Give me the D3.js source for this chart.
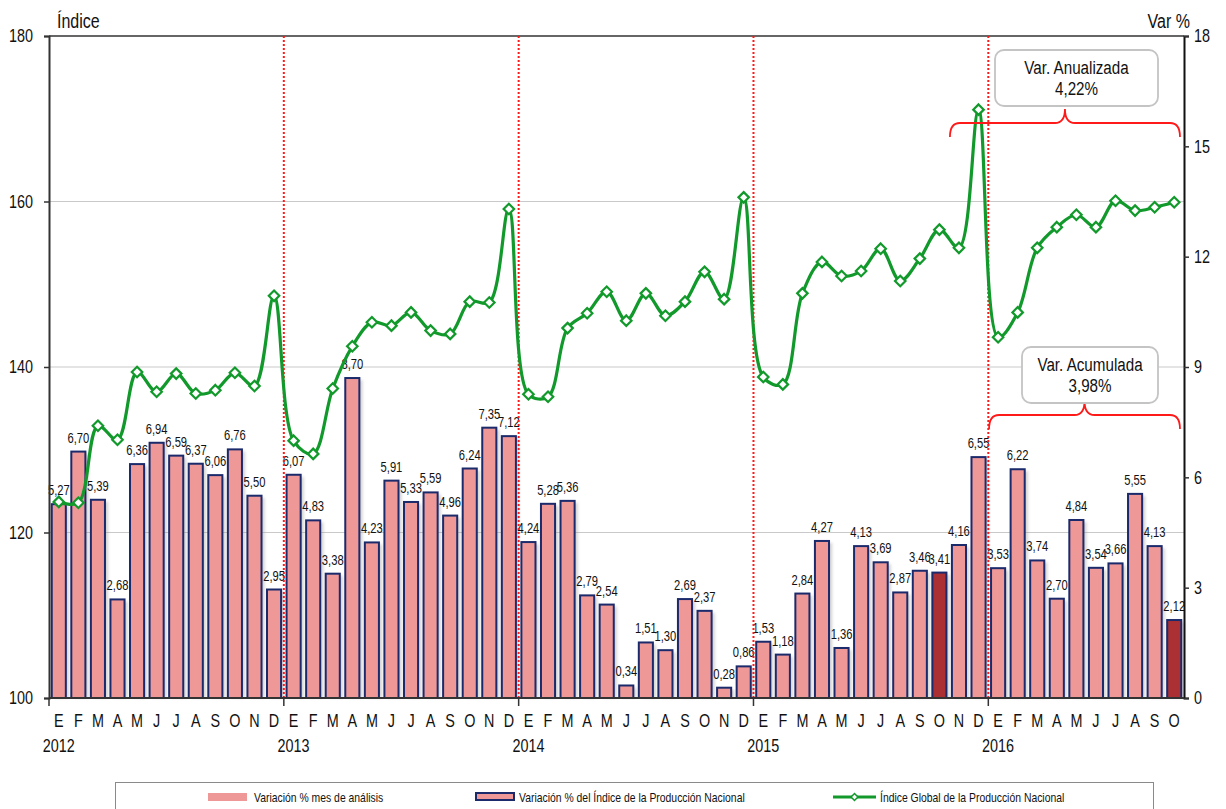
<!DOCTYPE html>
<html>
<head>
<meta charset="utf-8">
<script src="https://cdn.jsdelivr.net/npm/d3@7"></script>
<style>
  body { margin: 0; background: #fff; }
  svg { display: block; }
  text { font-family: "Liberation Sans", Arial, sans-serif; fill: #111; }
</style>
</head>
<body>
<svg id="chart"></svg>
<script>
// month initials per year (Spanish)
const monthLetters = ['E', 'F', 'M', 'A', 'M', 'J', 'J', 'A', 'S', 'O', 'N', 'D'];
const years = ['2012', '2013', '2014', '2015', '2016'];

// Variación % (right axis), Jan 2012 .. Oct 2016
const variacion = [
    5.27, 6.70, 5.39, 2.68, 6.36, 6.94, 6.59, 6.37, 6.06, 6.76, 5.50, 2.95,
    6.07, 4.83, 3.38, 8.70, 4.23, 5.91, 5.33, 5.59, 4.96, 6.24, 7.35, 7.12,
    4.24, 5.28, 5.36, 2.79, 2.54, 0.34, 1.51, 1.30, 2.69, 2.37, 0.28, 0.86,
    1.53, 1.18, 2.84, 4.27, 1.36, 4.13, 3.69, 2.87, 3.46, 3.41, 4.16, 6.55,
    3.53, 6.22, 3.74, 2.70, 4.84, 3.54, 3.66, 5.55, 4.13, 2.12
];

// Índice Global de la Producción Nacional (left axis)
const indice = [
    123.7, 123.6, 132.9, 131.2, 139.4, 137.0, 139.2, 136.8, 137.2, 139.3, 137.7, 148.6,
    131.1, 129.5, 137.4, 142.5, 145.4, 145.0, 146.6, 144.4, 144.0, 147.9, 147.8, 159.1,
    136.7, 136.4, 144.7, 146.5, 149.1, 145.6, 148.9, 146.2, 147.9, 151.5, 148.2, 160.5,
    138.8, 137.9, 148.9, 152.7, 151.0, 151.6, 154.3, 150.4, 153.1, 156.6, 154.4, 171.1,
    143.6, 146.6, 154.4, 156.9, 158.4, 156.9, 160.1, 158.9, 159.3, 159.9
];

// months of analysis (highlighted bars)
const mesAnalisis = [45, 57];

const leftTicks = [100, 120, 140, 160, 180];
const rightTicks = [0, 3, 6, 9, 12, 15, 18];

const legendLabels = [
    'Variación % mes de análisis',
    'Variación % del Índice de la Producción Nacional',
    'Índice Global de la Producción Nacional'
];

const annotations = [
    { lines: ['Var. Anualizada', '4,22%'], from: 46, boxX: 995, boxW: 163, boxY: 50, braceY: 123 },
    { lines: ['Var. Acumulada', '3,98%'], from: 48, boxX: 1022, boxW: 136, boxY: 347, braceY: 415 }
];

const W = 1226, H = 809;
const plot = { left: 49, right: 1184, top: 36, bottom: 698 };
const SQUEEZE = 0.8; // the original uses a narrow typeface

const svg = d3.select('#chart').attr('width', W).attr('height', H);

// text helper: horizontally condensed label
function label(g, x, y, str, size, anchor) {
    return g.append('text')
        .attr('transform', `translate(${x},${y}) scale(${SQUEEZE},1)`)
        .attr('text-anchor', anchor || 'start')
        .attr('font-size', size)
        .text(str);
}

const idx = d3.range(variacion.length);
const x = d3.scaleBand()
    .domain(idx)
    .range([plot.left, plot.right])
    .paddingInner(0.28)
    .paddingOuter(0.14);
const step = x.step();
const bandStart = i => plot.left + i * step;
const cx = i => x(i) + x.bandwidth() / 2;

const yL = d3.scaleLinear().domain([100, 180]).range([plot.bottom, plot.top]);
const yR = d3.scaleLinear().domain([0, 18]).range([plot.bottom, plot.top]);

const defs = svg.append('defs');
defs.append('filter').attr('id', 'shadow')
    .attr('x', '-20%').attr('y', '-5%').attr('width', '160%').attr('height', '120%')
    .append('feGaussianBlur').attr('stdDeviation', 1.5);

// gridlines
svg.append('g')
    .selectAll('line')
    .data(leftTicks.filter(d => d !== 100 && d !== 180))
    .join('line')
    .attr('x1', plot.left).attr('x2', plot.right)
    .attr('y1', d => yL(d)).attr('y2', d => yL(d))
    .attr('stroke', '#c9c9c9').attr('stroke-width', 1.2);

// top border
svg.append('line')
    .attr('x1', plot.left).attr('x2', plot.right)
    .attr('y1', plot.top).attr('y2', plot.top)
    .attr('stroke', '#666').attr('stroke-width', 2);

// bar shadows
svg.append('g')
    .selectAll('rect')
    .data(idx)
    .join('rect')
    .attr('x', i => x(i) + 3)
    .attr('y', i => yR(variacion[i]) + 2)
    .attr('width', x.bandwidth())
    .attr('height', i => plot.bottom - yR(variacion[i]) - 2)
    .attr('fill', '#999')
    .attr('opacity', 0.45)
    .attr('filter', 'url(#shadow)');

// bars
svg.append('g')
    .selectAll('rect')
    .data(idx)
    .join('rect')
    .attr('x', i => x(i))
    .attr('y', i => yR(variacion[i]))
    .attr('width', x.bandwidth())
    .attr('height', i => plot.bottom - yR(variacion[i]))
    .attr('fill', i => mesAnalisis.includes(i) ? '#ab3033' : '#ef9898')
    .attr('stroke', '#1b2a6b')
    .attr('stroke-width', 2);

// bar labels
const barLabels = svg.append('g');
idx.forEach(i => {
    label(barLabels, cx(i), yR(variacion[i]) - 9, variacion[i].toFixed(2).replace('.', ','), 14, 'middle');
});

// year separators
svg.append('g')
    .selectAll('line')
    .data([12, 24, 36, 48])
    .join('line')
    .attr('x1', i => bandStart(i)).attr('x2', i => bandStart(i))
    .attr('y1', plot.top).attr('y2', plot.bottom)
    .attr('stroke', '#ff1a1a').attr('stroke-width', 2)
    .attr('stroke-dasharray', '2,2');

// line
const line = d3.line()
    .x((d, i) => cx(i))
    .y(d => yL(d))
    .curve(d3.curveCatmullRom.alpha(0.5));

svg.append('path')
    .datum(indice)
    .attr('d', line)
    .attr('fill', 'none')
    .attr('stroke', '#12992b')
    .attr('stroke-width', 3.2);

const diamond = d3.symbol().type(d3.symbolDiamond2).size(70);
svg.append('g')
    .selectAll('path')
    .data(indice)
    .join('path')
    .attr('d', diamond)
    .attr('transform', (d, i) => `translate(${cx(i)},${yL(d)})`)
    .attr('fill', '#fff')
    .attr('stroke', '#12992b')
    .attr('stroke-width', 2.2);

// axes
const leftAxis = d3.axisLeft(yL).tickValues(leftTicks).tickSize(5);
svg.append('g')
    .attr('transform', `translate(${plot.left},0)`)
    .call(leftAxis)
    .call(g => g.select('.domain').attr('stroke', '#333').attr('stroke-width', 2))
    .call(g => g.selectAll('.tick line').attr('stroke', '#333').attr('stroke-width', 1.5))
    .call(g => g.selectAll('.tick text').attr('font-size', 18).attr('fill', '#111')
        .attr('x', -16 / SQUEEZE).attr('transform', `scale(${SQUEEZE},1)`)
        .style('font-family', '"Liberation Sans", Arial, sans-serif'));

const rightAxis = d3.axisRight(yR).tickValues(rightTicks).tickSize(5);
svg.append('g')
    .attr('transform', `translate(${plot.right},0)`)
    .call(rightAxis)
    .call(g => g.select('.domain').attr('stroke', '#111').attr('stroke-width', 2))
    .call(g => g.selectAll('.tick line').attr('stroke', '#333').attr('stroke-width', 1.5))
    .call(g => g.selectAll('.tick text').attr('font-size', 18).attr('fill', '#111')
        .attr('x', 10 / SQUEEZE).attr('transform', `scale(${SQUEEZE},1)`)
        .style('font-family', '"Liberation Sans", Arial, sans-serif'));

// x axis baseline
svg.append('line')
    .attr('x1', plot.left).attr('x2', plot.right)
    .attr('y1', plot.bottom).attr('y2', plot.bottom)
    .attr('stroke', '#333').attr('stroke-width', 2);

svg.append('g')
    .selectAll('line')
    .data([0, 12, 24, 36, 48])
    .join('line')
    .attr('x1', i => bandStart(i)).attr('x2', i => bandStart(i))
    .attr('y1', plot.bottom).attr('y2', plot.bottom + 8)
    .attr('stroke', '#333').attr('stroke-width', 1.5);

// month and year labels
const xLabels = svg.append('g');
idx.forEach(i => label(xLabels, cx(i), 727, monthLetters[i % 12], 18, 'middle'));
years.forEach((yr, k) => label(xLabels, cx(k * 12), 752, yr, 18, 'middle'));

// axis titles
label(svg, 57, 28, 'Índice', 20);
label(svg, 1190, 28, 'Var %', 20, 'end');

// annotations with curly braces
function brace(x1, x2, y, tipX) {
    const r = 10, d = 14;
    return `M${x1},${y + d} Q${x1},${y} ${x1 + r},${y}` +
        ` L${tipX - r},${y} Q${tipX},${y} ${tipX},${y - 14}` +
        ` Q${tipX},${y} ${tipX + r},${y}` +
        ` L${x2 - r},${y} Q${x2},${y} ${x2},${y + d}`;
}

annotations.forEach(a => {
    const x1 = x(a.from) - 2;
    const x2 = plot.right - 4;
    const tipX = (x1 + x2) / 2;
    svg.append('path')
        .attr('d', brace(x1, x2, a.braceY, tipX))
        .attr('fill', 'none')
        .attr('stroke', '#ff1a1a')
        .attr('stroke-width', 1.8);

    svg.append('rect')
        .attr('x', a.boxX).attr('y', a.boxY)
        .attr('width', a.boxW).attr('height', 56)
        .attr('rx', 9)
        .attr('fill', '#fff')
        .attr('stroke', '#c4c4c4')
        .attr('stroke-width', 1.8);
    a.lines.forEach((t, k) => {
        label(svg, a.boxX + a.boxW / 2, a.boxY + 24 + k * 21, t, 19, 'middle');
    });
});

// legend
const legend = svg.append('g');
legend.append('rect')
    .attr('x', 115.5).attr('y', 782.5)
    .attr('width', 1038).attr('height', 40)
    .attr('fill', '#fff').attr('stroke', '#8a8a8a').attr('stroke-width', 1);

legend.append('rect').attr('x', 208).attr('y', 793).attr('width', 39).attr('height', 8).attr('fill', '#ef9898');
label(legend, 254, 801.5, legendLabels[0], 13);

legend.append('rect').attr('x', 476).attr('y', 793).attr('width', 38).attr('height', 7)
    .attr('fill', '#ef9898').attr('stroke', '#1b2a6b').attr('stroke-width', 2);
label(legend, 519, 801.5, legendLabels[1], 13);

legend.append('line').attr('x1', 833).attr('x2', 876).attr('y1', 797).attr('y2', 797)
    .attr('stroke', '#12992b').attr('stroke-width', 3.2);
legend.append('path').attr('d', d3.symbol().type(d3.symbolDiamond2).size(30))
    .attr('transform', 'translate(854.5,797)')
    .attr('fill', '#fff').attr('stroke', '#12992b').attr('stroke-width', 1.5);
label(legend, 880, 801.5, legendLabels[2], 13);
</script>
</body>
</html>
